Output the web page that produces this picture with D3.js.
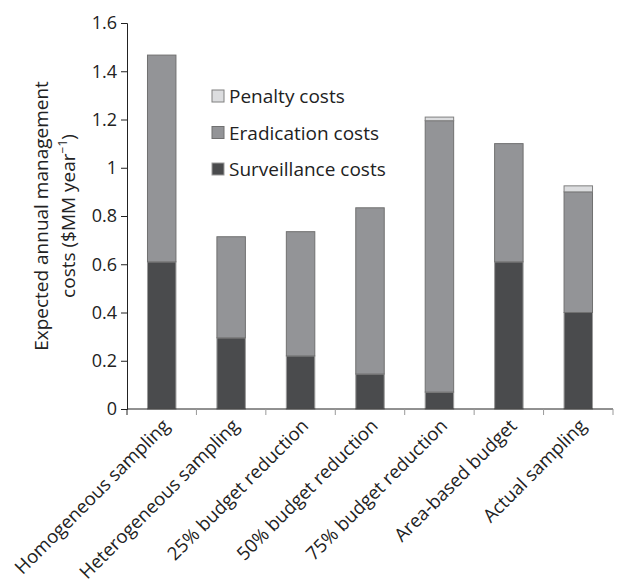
<!DOCTYPE html>
<html>
<head>
<meta charset="utf-8">
<script src="https://cdn.jsdelivr.net/npm/d3@7"></script>
<style>
  body { margin: 0; background: #fff; }
  text { font-family: "Open Sans", sans-serif; fill: #222; }
</style>
</head>
<body>
<div id="chart"></div>
<script>
// data
const categories = ["Homogeneous sampling", "Heterogeneous sampling", "25% budget reduction",
  "50% budget reduction", "75% budget reduction", "Area-based budget", "Actual sampling"];
const surveillance = [0.61, 0.295, 0.22, 0.145, 0.07, 0.61, 0.40];
const eradication  = [0.857, 0.419, 0.515, 0.689, 1.125, 0.49, 0.50];
const penalty      = [0, 0, 0, 0, 0.015, 0, 0.025];
const yTicks = [0, 0.2, 0.4, 0.6, 0.8, 1, 1.2, 1.4, 1.6];

const seriesNames = ["Surveillance costs", "Eradication costs", "Penalty costs"];
const colors = { "Surveillance costs": "#4a4b4d", "Eradication costs": "#939497", "Penalty costs": "#dcdddf" };
const strokes = { "Surveillance costs": "#9a9a9a", "Eradication costs": "#707070", "Penalty costs": "#808080" };

const width = 640, height = 586;
const margin = { top: 23, right: 27, bottom: 177, left: 127 };

const svg = d3.select("#chart").append("svg")
  .attr("width", width)
  .attr("height", height);

const rows = categories.map((c, i) => ({
  cat: c,
  "Surveillance costs": surveillance[i],
  "Eradication costs": eradication[i],
  "Penalty costs": penalty[i]
}));
const stacked = d3.stack().keys(seriesNames)(rows);

const x = d3.scaleBand()
  .domain(categories)
  .range([margin.left, width - margin.right])
  .paddingInner(0.59)
  .paddingOuter(0.295);

const y = d3.scaleLinear()
  .domain([0, 1.6])
  .range([height - margin.bottom, margin.top]);

// bars
svg.append("g").selectAll("g")
  .data(stacked)
  .join("g")
  .attr("fill", d => colors[d.key])
  .attr("stroke", d => strokes[d.key])
  .attr("stroke-width", 1)
  .selectAll("rect")
  .data(d => d.filter(s => s[1] - s[0] > 0))
  .join("rect")
  .attr("x", d => x(d.data.cat))
  .attr("y", d => y(d[1]))
  .attr("width", x.bandwidth())
  .attr("height", d => y(d[0]) - y(d[1]));

// y axis
const yAxis = svg.append("g")
  .attr("transform", `translate(${margin.left},0)`)
  .call(d3.axisLeft(y).tickValues(yTicks).tickSize(6).tickFormat(d => d3.format("")(d)));
yAxis.select(".domain").attr("stroke", "#222");
yAxis.selectAll(".tick line").attr("stroke", "#222");
yAxis.selectAll(".tick text").attr("font-size", 18).attr("x", -10)
  .style("font-family", "'Open Sans', sans-serif").attr("fill", "#222");

// x axis: ticks on the category boundaries
const step = x.step();
const boundaries = categories.map(c => x(c) - step * x.paddingInner() / 2).concat([width - margin.right]);
const xAxis = svg.append("g");
xAxis.append("line")
  .attr("x1", margin.left).attr("x2", width - margin.right)
  .attr("y1", y(0)).attr("y2", y(0))
  .attr("stroke", "#222");
xAxis.selectAll(".b")
  .data(boundaries)
  .join("line")
  .attr("x1", d => d).attr("x2", d => d)
  .attr("y1", y(0)).attr("y2", y(0) + 6)
  .attr("stroke", (d, i) => i === 0 ? "#222" : "#999");
xAxis.selectAll(".lab")
  .data(categories)
  .join("text")
  .attr("transform", d => `translate(${x(d) + x.bandwidth() / 2 + 9},${y(0) + 18}) rotate(-45)`)
  .attr("text-anchor", "end")
  .attr("font-size", 18.5)
  .text(d => d);

// y axis title
const yTitle = svg.append("text")
  .attr("transform", `translate(0,216) rotate(-90)`)
  .attr("text-anchor", "middle")
  .attr("font-size", 19);
yTitle.append("tspan").attr("x", 0).attr("y", 48).text("Expected annual management");
yTitle.append("tspan").attr("x", 0).attr("y", 75).text("costs ($MM year")
  .append("tspan").attr("dy", -8).attr("font-size", 12).text("\u22121")
  .select(function () { return this.parentNode; })
  .append("tspan").attr("dy", 8).text(")");

// legend
const legendItems = ["Penalty costs", "Eradication costs", "Surveillance costs"];
const legend = svg.append("g").attr("transform", "translate(212,90)");
const li = legend.selectAll("g")
  .data(legendItems)
  .join("g")
  .attr("transform", (d, i) => `translate(0,${i * 36.5})`);
li.append("rect")
  .attr("width", 12).attr("height", 12)
  .attr("fill", d => colors[d])
  .attr("stroke", d => strokes[d]);
li.append("text")
  .attr("x", 17).attr("y", 13)
  .attr("font-size", 19)
  .text(d => d);
</script>
</body>
</html>
